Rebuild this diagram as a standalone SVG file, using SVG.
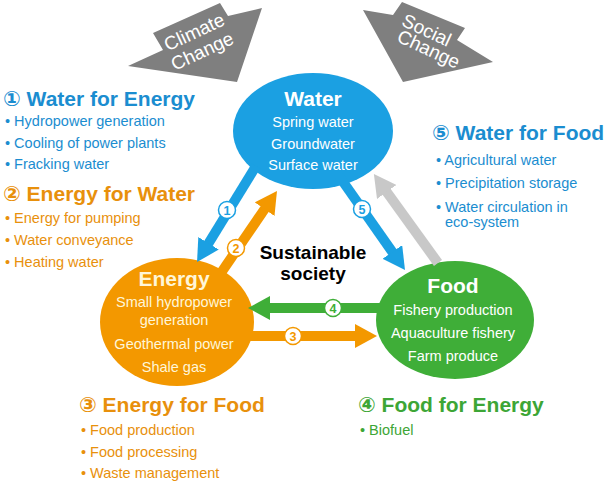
<svg xmlns="http://www.w3.org/2000/svg" width="609" height="483" viewBox="0 0 609 483">
<style>
text{font-family:"Liberation Sans","DejaVu Sans","Noto Sans CJK JP",sans-serif}
.ttl{font-size:21px;font-weight:bold}
.bl{font-size:14.5px}
.blue{fill:#1b8dd0}
.orange{fill:#e8900c}
.green{fill:#3da636}
.ntitle{font-size:21px;font-weight:bold;text-anchor:middle}
.nbody{font-size:14.5px;text-anchor:middle}
.big{fill:#7f7f7f}
.bigt{fill:#ffffff;font-size:19px;text-anchor:middle}
.conn{stroke-width:10;fill:none}
.lab circle{fill:#ffffff;stroke-width:1.5}
.lab text{font-size:12.5px;font-weight:bold;text-anchor:middle}
</style>
<defs>
<marker id="hb" markerUnits="userSpaceOnUse" markerWidth="22" markerHeight="24" viewBox="0 0 22 24" refX="2" refY="12" orient="auto"><path d="M0,0 L22,12 L0,24 z" fill="#1ba0e2"/></marker>
<marker id="ho" markerUnits="userSpaceOnUse" markerWidth="22" markerHeight="24" viewBox="0 0 22 24" refX="2" refY="12" orient="auto"><path d="M0,0 L22,12 L0,24 z" fill="#f39800"/></marker>
<marker id="hg" markerUnits="userSpaceOnUse" markerWidth="22" markerHeight="24" viewBox="0 0 22 24" refX="2" refY="12" orient="auto"><path d="M0,0 L22,12 L0,24 z" fill="#3fae38"/></marker>
<marker id="hy" markerUnits="userSpaceOnUse" markerWidth="22" markerHeight="24" viewBox="0 0 22 24" refX="2" refY="12" orient="auto"><path d="M0,0 L22,12 L0,24 z" fill="#c8c8c8"/></marker>
</defs>

<g id="climate-change">
<polygon class="big" points="153,33 220,3 228,16 262,8 237,82 128,66 163,50"/>
<text class="bigt" transform="translate(197,38) rotate(-25)">Climate</text>
<text class="bigt" transform="translate(205,57) rotate(-25)">Change</text>
</g>
<g id="social-change">
<polygon class="big" points="402,2 465,28 457,40 493,62 403,82 363,10 393,15"/>
<text class="bigt" transform="translate(424,36) rotate(25)">Social</text>
<text class="bigt" transform="translate(426,55) rotate(25)">Change</text>
</g>

<g id="water">
<ellipse cx="313" cy="131" rx="80" ry="58" fill="#1ba0e2"/>
<text class="ntitle" x="313" y="106" fill="#ffffff">Water</text>
<text class="nbody" x="313" y="127" fill="#ffffff">Spring water</text>
<text class="nbody" x="313" y="149" fill="#ffffff">Groundwater</text>
<text class="nbody" x="313" y="170" fill="#ffffff">Surface water</text>
</g>
<g id="energy">
<ellipse cx="177" cy="322" rx="77" ry="64" fill="#f39800"/>
<text class="ntitle" x="174" y="286" fill="#fff6d8">Energy</text>
<text class="nbody" x="174" y="307" fill="#fff6d8">Small hydropower</text>
<text class="nbody" x="174" y="325" fill="#fff6d8">generation</text>
<text class="nbody" x="174" y="349" fill="#fff6d8">Geothermal power</text>
<text class="nbody" x="174" y="372" fill="#fff6d8">Shale gas</text>
</g>
<g id="food">
<ellipse cx="455" cy="320" rx="79" ry="59" fill="#3fae38"/>
<text class="ntitle" x="453" y="293" fill="#ffffff">Food</text>
<text class="nbody" x="453" y="315" fill="#ffffff">Fishery production</text>
<text class="nbody" x="453" y="338" fill="#ffffff">Aquaculture fishery</text>
<text class="nbody" x="453" y="361" fill="#ffffff">Farm produce</text>
</g>

<g id="connectors">
<line class="conn" x1="256" y1="166" x2="207.5" y2="245" stroke="#1ba0e2" marker-end="url(#hb)"/>
<line class="conn" x1="221.6" y1="272" x2="265.7" y2="207.5" stroke="#f39800" marker-end="url(#ho)"/>
<line class="conn" x1="339" y1="176" x2="393.5" y2="253.6" stroke="#1ba0e2" marker-end="url(#hb)"/>
<line class="conn" x1="438" y1="263" x2="385.6" y2="190.3" stroke="#c8c8c8" marker-end="url(#hy)"/>
<line class="conn" x1="385" y1="308" x2="268" y2="308" stroke="#3fae38" marker-end="url(#hg)"/>
<line class="conn" x1="240" y1="336" x2="357" y2="336" stroke="#f39800" marker-end="url(#ho)"/>
<g class="lab"><circle cx="227" cy="210" r="8.5" stroke="#1ba0e2"/><text x="227" y="214.5" fill="#1ba0e2">1</text></g>
<g class="lab"><circle cx="236" cy="248" r="8.5" stroke="#f39800"/><text x="236" y="252.5" fill="#f39800">2</text></g>
<g class="lab"><circle cx="362" cy="209" r="8.5" stroke="#1ba0e2"/><text x="362" y="213.5" fill="#1ba0e2">5</text></g>
<g class="lab"><circle cx="333" cy="308" r="8.5" stroke="#3fae38"/><text x="333" y="312.5" fill="#3fae38">4</text></g>
<g class="lab"><circle cx="293" cy="336" r="8.5" stroke="#f39800"/><text x="293" y="340.5" fill="#f39800">3</text></g>
</g>

<g id="sustainable-society">
<text x="313" y="259" font-size="19" font-weight="bold" text-anchor="middle" fill="#000000">Sustainable</text>
<text x="313" y="280" font-size="19" font-weight="bold" text-anchor="middle" fill="#000000">society</text>
</g>

<g id="water-for-energy" class="blue">
<text class="ttl" x="3" y="106">① Water for Energy</text>
<text class="bl" x="5" y="126">• Hydropower generation</text>
<text class="bl" x="5" y="148">• Cooling of power plants</text>
<text class="bl" x="5" y="169">• Fracking water</text>
</g>
<g id="energy-for-water" class="orange">
<text class="ttl" x="3" y="201">② Energy for Water</text>
<text class="bl" x="5" y="223">• Energy for pumping</text>
<text class="bl" x="5" y="245">• Water conveyance</text>
<text class="bl" x="5" y="267">• Heating water</text>
</g>
<g id="water-for-food" class="blue">
<text class="ttl" x="432" y="140">⑤ Water for Food</text>
<text class="bl" x="436" y="165">• Agricultural water</text>
<text class="bl" x="436" y="188">• Precipitation storage</text>
<text class="bl" x="436" y="212">• Water circulation in</text>
<text class="bl" x="445" y="227">eco-system</text>
</g>
<g id="energy-for-food" class="orange">
<text class="ttl" x="79" y="412">③ Energy for Food</text>
<text class="bl" x="81" y="435">• Food production</text>
<text class="bl" x="81" y="457">• Food processing</text>
<text class="bl" x="81" y="478">• Waste management</text>
</g>
<g id="food-for-energy" class="green">
<text class="ttl" x="358" y="412">④ Food for Energy</text>
<text class="bl" x="360" y="435">• Biofuel</text>
</g>
</svg>
